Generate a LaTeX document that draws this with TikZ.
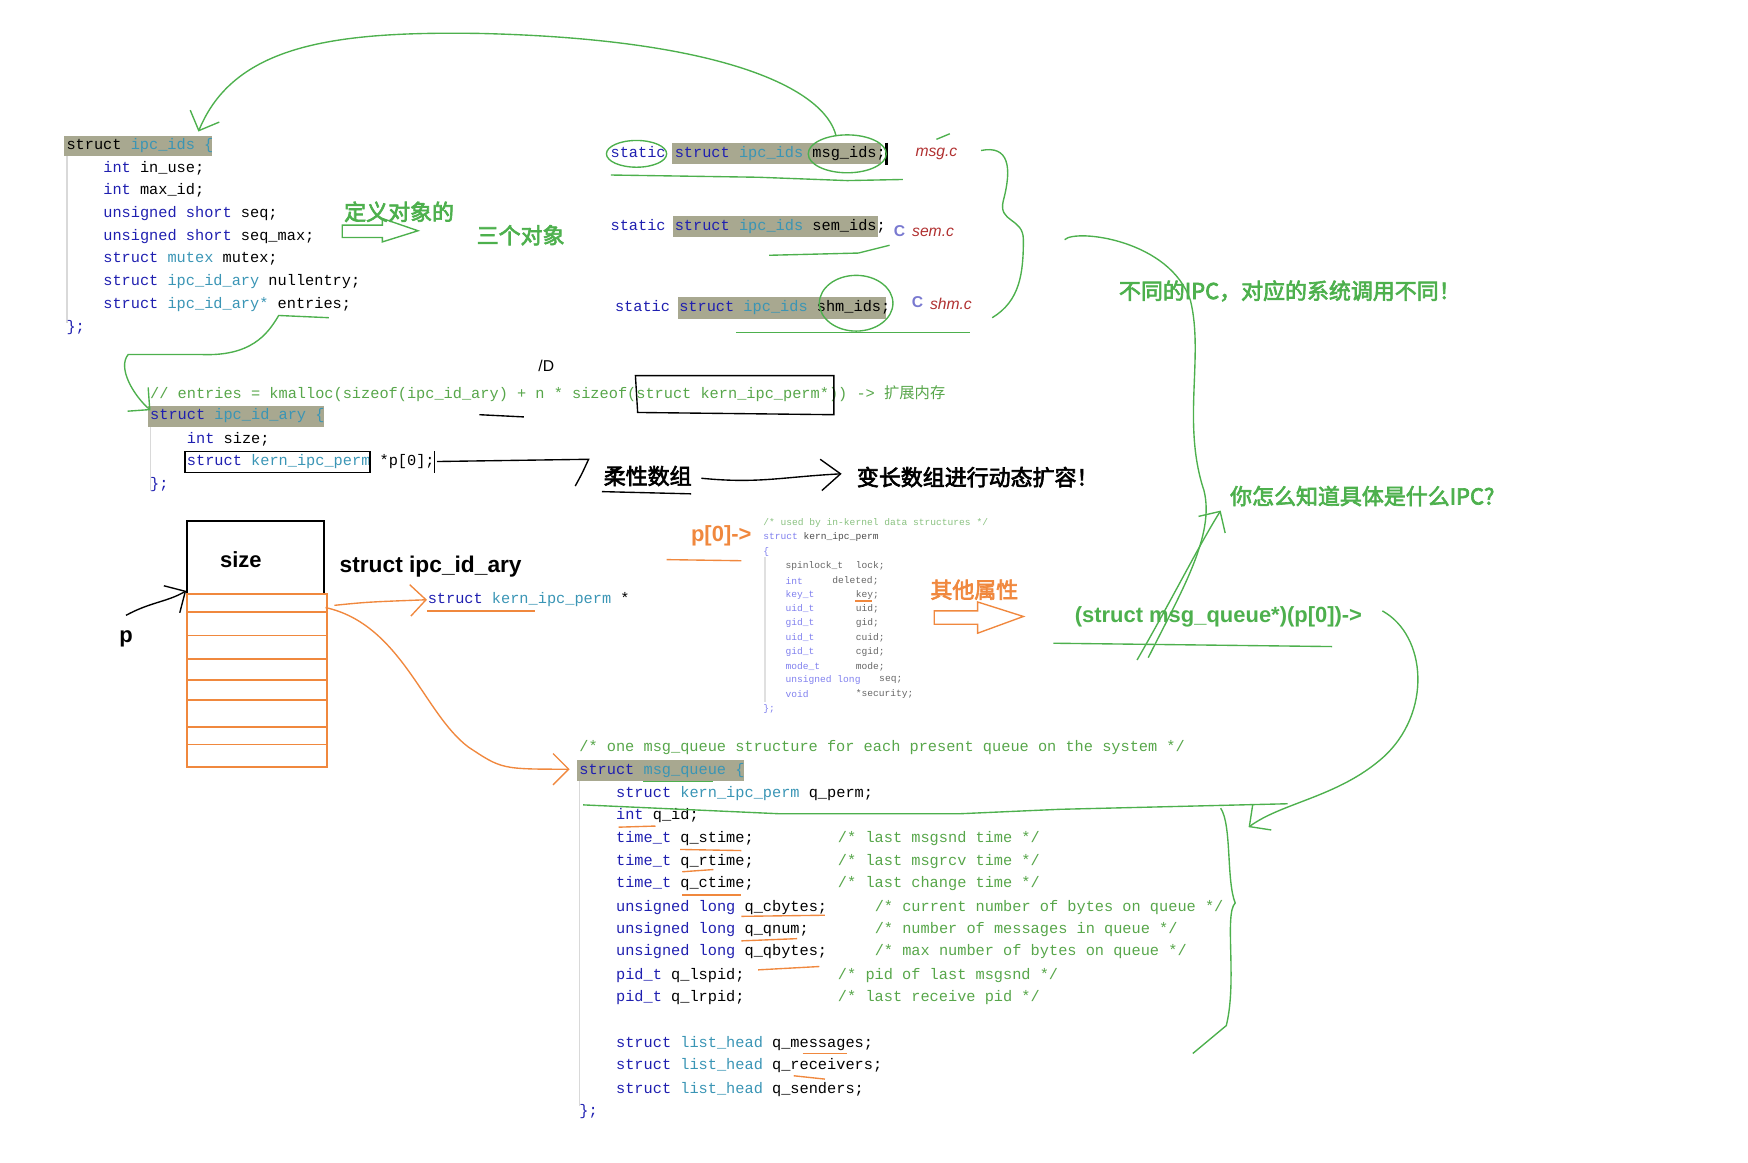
\documentclass[tikz,border=0pt]{standalone}
\usepackage{fontspec}
\setmainfont{Liberation Sans}
\setmonofont{Liberation Mono}
\newfontfamily\cjk{Noto Sans CJK SC}
\newfontfamily\cjkb{Noto Sans CJK SC}[FakeBold=3]
\usetikzlibrary{arrows.meta}
\definecolor{kw}{HTML}{1F1FB0}
\definecolor{ty}{HTML}{3A95B5}
\definecolor{cmt}{HTML}{57A64A}
\definecolor{hl}{HTML}{A8A890}
\definecolor{gr}{HTML}{4DB04D}
\definecolor{og}{HTML}{F0883E}
\definecolor{fn}{HTML}{B03030}
\definecolor{sk}{HTML}{8080EE}
\newcommand{\K}[1]{\textcolor{kw}{#1}}
\newcommand{\T}[1]{\textcolor{ty}{#1}}
\newcommand{\C}[1]{\textcolor{cmt}{#1}}
\begin{document}
\begin{tikzpicture}[x=0.01cm,y=-0.01cm,
 code/.style={anchor=west,inner sep=0,font=\ttfamily\fontsize{3.9pt}{4.7pt}\selectfont},
 sm/.style={anchor=west,inner sep=0,font=\ttfamily\fontsize{2.45pt}{3pt}\selectfont,text=black!60},
 gt/.style={inner sep=0,text=gr,font=\cjkb\fontsize{5.6pt}{6pt}\selectfont},
 ot/.style={inner sep=0,text=og,font=\cjkb\fontsize{5.6pt}{6pt}\selectfont},
 bt/.style={inner sep=0,text=black,font=\cjkb\fontsize{5.6pt}{6pt}\selectfont},
 gl/.style={draw=gr,line width=0.35pt},
 ol/.style={draw=og,line width=0.35pt},
 bl/.style={draw=black,line width=0.35pt}]
\useasboundingbox (0,0) rectangle (1568,1043);
% ---------- highlights
\fill[hl] (57,122) rectangle (190,140);
\fill[hl] (603,128) rectangle (790,147);
\fill[hl] (604,194) rectangle (788,213);
\fill[hl] (608,266) rectangle (795,286);
\fill[hl] (133,364) rectangle (291,383);
\fill[hl] (518,682) rectangle (667,701);
\draw[black!15] (60,140) -- (60,290);
\draw[black!15] (135,383) -- (135,440);
\draw[black!15] (520,701) -- (520,992);
\draw[black!12] (686,500) -- (686,630);
% ---------- struct ipc_ids
\node[code] (a0) at (59,131) {struct \T{ipc\_ids \{}};
\node[code] (a1) at (92,151) {\K{int} in\_use;};
\node[code] (a2) at (92,171) {\K{int} max\_id;};
\node[code] (a3) at (92,192) {\K{unsigned short} seq;};
\node[code] (a4) at (92,212) {\K{unsigned short} seq\_max;};
\node[code] (a5) at (92,232) {\K{struct} \T{mutex} mutex;};
\node[code] (a6) at (92,253) {\K{struct} \T{ipc\_id\_ary} nullentry;};
\node[code] (a7) at (92,273) {\K{struct} \T{ipc\_id\_ary*} entries;};
\node[code] (a8) at (59,294) {\K{\};}};
% ---------- static lines
\node[code] (m1) at (547,138) {\K{static} \K{struct} \T{ipc\_ids} msg\_ids;};
\node[code] (m2) at (547,203) {\K{static} \K{struct} \T{ipc\_ids} sem\_ids;};
\node[code] (m3) at (551,276) {\K{static} \K{struct} \T{ipc\_ids} shm\_ids;};
\node[inner sep=0,text=fn,font=\itshape\fontsize{4pt}{5pt}\selectfont] (f1) at (840,138) {msg.c};
\node[inner sep=0,text=fn,font=\itshape\fontsize{4pt}{5pt}\selectfont] (f2) at (837,208) {sem.c};
\node[inner sep=0,text=fn,font=\itshape\fontsize{4pt}{5pt}\selectfont] (f3) at (853,273) {shm.c};
\node[inner sep=0,text=kw!60,font=\bfseries\fontsize{4pt}{5pt}\selectfont] (c2) at (807,207) {C};
\node[inner sep=0,text=kw!60,font=\bfseries\fontsize{4pt}{5pt}\selectfont] (c3) at (823,271) {C};
\draw[black,line width=0.8pt] (795,128) -- (795,148);
% ---------- ipc_id_ary
\node[code] (b0) at (134,353) {\C{// entries = kmalloc(sizeof(ipc\_id\_ary) + n * sizeof(struct kern\_ipc\_perm*)) -> {\cjk 扩展内存}}};
\node[code] (b1) at (134,373) {\K{struct} \T{ipc\_id\_ary \{}};
\node[code] (b2) at (167,394) {\K{int} size;};
\node[code] (b3) at (167,414) {\K{struct} \T{kern\_ipc\_perm} *p[0];};
\node[code] (b4) at (134,435) {\K{\};}};
\draw[bl] (570,337) -- (748,337) -- (748,372) -- (572,370) -- cycle;
\draw[bl] (166,405) rectangle (332,424);
\draw[bl] (390,405) -- (390,424);
\draw[bl] (430,372) -- (470,374);
\node[inner sep=0,font=\fontsize{4pt}{5pt}\selectfont] (ten) at (490,328) {/D};
% ---------- labels
\node[gt] (g1) at (358,190) {定义对象的};
\node[gt] (g2) at (467,211) {三个对象};
\node[gt] (g3) at (1157,261) {不同的IPC，对应的系统调用不同！};
\node[gt] (g4) at (1222,445) {你怎么知道具体是什么IPC?};
\node[inner sep=0,text=gr,font=\bfseries\fontsize{5.6pt}{6pt}\selectfont] (g5) at (1093,553) {(struct msg\_queue*)(p[0])->};
\node[bt] (k1) at (581,427) {柔性数组};
\node[bt] (k2) at (877,428) {变长数组进行动态扩容！};
\node[ot] (o1) at (874,529) {其他属性};
\node[inner sep=0,text=og,font=\bfseries\fontsize{5.6pt}{6pt}\selectfont] (o2) at (647,481) {p[0]->};
% black connectors
\coordinate (pk) at (392,414);
\draw[bl] (pk) -- (528,412) .. controls (522,425) .. (516,436);
\draw[bl] (540,441) -- (620,443);
\draw[bl,-{Straight Barb[length=5pt,width=8pt]}] (k1.east) ++(8,2) .. controls (680,434) and (700,428) .. (755,425);
% block arrows
\draw[gl] (307,202) -- (343,202) -- (343,196) -- (375,207) -- (343,217) -- (343,213) -- (307,213) -- cycle;
\draw[ol] (838,548) -- (877,548) -- (877,540) -- (918,553) -- (877,568) -- (877,560) -- (838,560) -- cycle;
% ---------- array box
\draw[black,line width=0.5pt] (168,533) -- (168,467) -- (291,467) -- (291,533);
\node[inner sep=0,font=\bfseries\fontsize{5.6pt}{6pt}\selectfont] (sz) at (216,502) {size};
\node[inner sep=0,anchor=west,font=\bfseries\fontsize{5.8pt}{6pt}\selectfont] (sia) at (304,508) {struct ipc\_id\_ary};
\draw[og,line width=0.5pt] (168,533) rectangle (293,688);
\foreach \yy in {549,570,591,610,628,652,668} \draw[og,line width=0.4pt] (168,\yy) -- (293,\yy);
\node[inner sep=0,font=\bfseries\fontsize{5.6pt}{6pt}\selectfont] (p) at (113,573) {p};
\coordinate (bx) at (167,530);
\draw[bl,-{Straight Barb[length=4pt]}] (113,552) .. controls (135,540) and (150,540) .. (bx);
\node[code] (kp) at (383,538) {\K{struct} \T{kern\_ipc\_perm} *};
\draw[ol,-{Straight Barb[length=4pt]}] (300,543) .. controls (330,540) .. (kp.west);
\coordinate (mq) at (511,690);
\draw[ol,-{Straight Barb[length=4pt]}] (292,545) .. controls (360,560) and (380,640) .. (420,670) .. controls (450,690) .. (mq);
\draw[ol] (383,548) -- (480,548);
% ---------- kern_ipc_perm
\node[sm,text=cmt!70] (s0) at (684,469) {/* used by in-kernel data structures */};
\node[sm,text=sk] (s1) at (684,482) {struct {\color{black!70}kern\_ipc\_perm}};
\node[sm,text=sk] (s2) at (684,495) {\{};
\node[sm] (s3) at (704,508) {spinlock\_t};
\node[sm,text=sk] (s4) at (704,521) {int};
\node[sm,text=sk] (s5) at (704,534) {key\_t};
\node[sm,text=sk] (s6) at (704,546) {uid\_t};
\node[sm,text=sk] (s7) at (704,559) {gid\_t};
\node[sm,text=sk] (s8) at (704,572) {uid\_t};
\node[sm,text=sk] (s9) at (704,585) {gid\_t};
\node[sm,text=sk] (s10) at (704,598) {mode\_t};
\node[sm,text=sk] (s11) at (704,610) {unsigned long};
\node[sm,text=sk] (s12) at (704,623) {void};
\node[sm] (t3) at (767,508) {lock;};
\node[sm] (t4) at (746,521) {deleted;};
\node[sm] (t5) at (767,534) {key;};
\node[sm] (t6) at (767,546) {uid;};
\node[sm] (t7) at (767,559) {gid;};
\node[sm] (t8) at (767,572) {cuid;};
\node[sm] (t9) at (767,585) {cgid;};
\node[sm] (t10) at (767,598) {mode;};
\node[sm] (t11) at (788,610) {seq;};
\node[sm] (t12) at (767,623) {*security;};
\node[sm,text=sk] (s13) at (684,636) {\};};
\draw[ol] (598,502) -- (665,503);
\draw[ol] (767,539) -- (782,539);
% ---------- msg_queue
\node[code] (q0) at (519,671) {\C{/* one msg\_queue structure for each present queue on the system */}};
\node[code] (q1) at (519,691) {\K{struct} \T{msg\_queue \{}};
\node[code] (q2) at (552,712) {\K{struct} \T{kern\_ipc\_perm} q\_perm;};
\node[code] (q3) at (552,732) {\K{int} q\_id;};
\node[code] (q4) at (552,752) {\K{time\_t} q\_stime;};
\node[code] (q5) at (552,773) {\K{time\_t} q\_rtime;};
\node[code] (q6) at (552,793) {\K{time\_t} q\_ctime;};
\node[code] (q7) at (552,814) {\K{unsigned long} q\_cbytes;};
\node[code] (q8) at (552,834) {\K{unsigned long} q\_qnum;};
\node[code] (q9) at (552,854) {\K{unsigned long} q\_qbytes;};
\node[code] (q10) at (552,875) {\K{pid\_t} q\_lspid;};
\node[code] (q11) at (552,895) {\K{pid\_t} q\_lrpid;};
\node[code] (q12) at (552,936) {\K{struct} \T{list\_head} q\_messages;};
\node[code] (q13) at (552,956) {\K{struct} \T{list\_head} q\_receivers;};
\node[code] (q14) at (552,977) {\K{struct} \T{list\_head} q\_senders;};
\node[code] (q15) at (519,997) {\K{\};}};
\node[code] (r4) at (751,752) {\C{/* last msgsnd time */}};
\node[code] (r5) at (751,773) {\C{/* last msgrcv time */}};
\node[code] (r6) at (751,793) {\C{/* last change time */}};
\node[code] (r7) at (784,814) {\C{/* current number of bytes on queue */}};
\node[code] (r8) at (784,834) {\C{/* number of messages in queue */}};
\node[code] (r9) at (784,854) {\C{/* max number of bytes on queue */}};
\node[code] (r10) at (751,875) {\C{/* pid of last msgsnd */}};
\node[code] (r11) at (751,895) {\C{/* last receive pid */}};
% orange underlines
\draw[ol] (555,742) -- (588,741);
\draw[ol] (610,762) -- (665,763);
\draw[ol] (612,782) -- (640,780);
\draw[ol] (612,803) -- (665,803);
\draw[ol] (665,822) -- (740,821);
\draw[ol] (665,844) -- (715,842);
\draw[ol] (680,870) -- (735,867);
\draw[ol] (720,945) -- (760,945);
\draw[ol] (712,965) -- (740,968);
% ---------- green hand lines
\draw[gl] (571,138) ellipse (27 and 12);
\draw[gl] (760,138) ellipse (35 and 17);
\draw[gl] (768,272) ellipse (33 and 25);
\draw[gl] (548,157) -- (680,159) -- (760,162) -- (810,161);
\draw[gl] (690,229) -- (770,227) -- (798,220);
\draw[gl] (660,298) -- (870,298);
\draw[gl] (840,125) -- (852,120);
\coordinate (ah) at (178,118);
\draw[gl,-{Straight Barb[length=4pt]}] (750,122) .. controls (740,80) and (650,35) .. (430,30) .. controls (300,28) and (210,40) .. (ah);
\draw[gl] (880,135) .. controls (905,130) and (908,150) .. (900,180) .. controls (895,200) and (918,195) .. (918,215) .. controls (918,245) and (915,270) .. (890,285);
\coordinate (ea) at (135,368);
\draw[gl,-{Straight Barb[length=4pt]}] (295,285) -- (250,283) .. controls (240,300) and (225,320) .. (180,318) -- (115,318) .. controls (105,330) and (120,355) .. (ea);
\draw[gl] (955,215) .. controls (965,205) and (1050,215) .. (1068,270) .. controls (1080,320) and (1060,380) .. (1080,440) .. controls (1090,480) and (1060,530) .. (1030,590);
\coordinate (ya) at (1095,458);
\draw[gl,-{Straight Barb[length=4pt]}] (1020,592) .. controls (1050,540) and (1075,490) .. (ya);
\draw[gl] (945,577) -- (1195,580);
\coordinate (qa) at (1120,742);
\draw[gl,-{Straight Barb[length=4pt]}] (1240,548) .. controls (1280,570) and (1285,640) .. (1240,680) .. controls (1200,715) and (1150,720) .. (qa);
\draw[gl] (523,722) -- (700,730) -- (860,730) -- (950,726) -- (1155,721);
\draw[gl] (1095,725) .. controls (1105,740) and (1100,790) .. (1108,810) .. controls (1098,820) and (1110,880) .. (1100,920) -- (1070,945);
\draw[gl] (577,701) -- (640,701);
\end{tikzpicture}
\end{document}
